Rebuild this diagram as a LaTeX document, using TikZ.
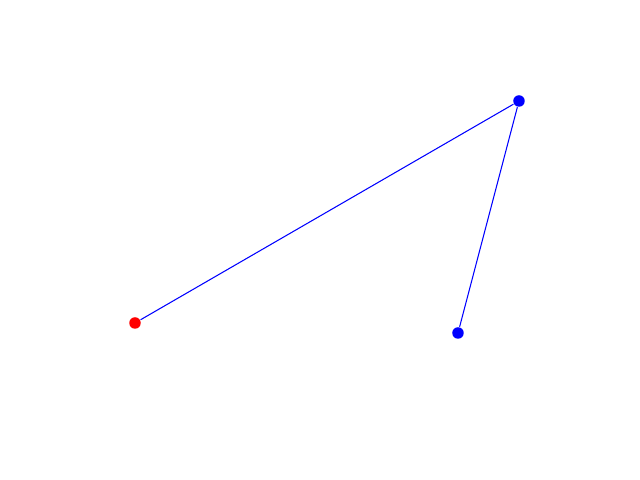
\documentclass[tikz,border=0pt]{standalone}
\usepackage{tikz}
\usetikzlibrary{positioning}
\tikzset{
dot/.style={circle,fill,inner sep=0pt,minimum size=0.115cm},
link/.style={blue,line width=0.3pt}
}
\begin{document}
\begin{tikzpicture}
\useasboundingbox (0,0) rectangle (6.4,4.8);
\node[dot,red] (start) at (1.35,1.57) {};
\node[dot,blue] (top) at (5.19,3.79) {};
\node[dot,blue] (end) at (4.58,1.47) {};

\draw[link] (start) -- (top) -- (end);
\end{tikzpicture}
\end{document}
